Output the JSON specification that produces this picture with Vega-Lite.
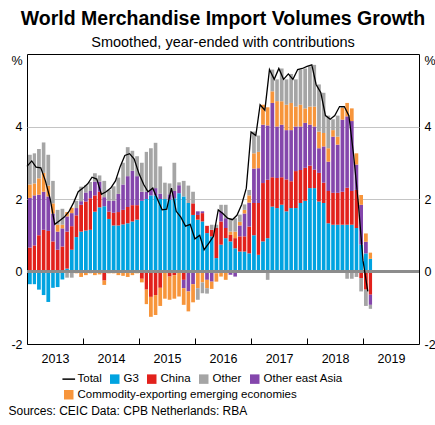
{
  "$schema": "https://vega.github.io/schema/vega-lite/v6.json",
  "padding": {"left": 0, "top": 8, "right": 0, "bottom": 0},
  "config": {
    "font": "Liberation Sans",
    "view": {"stroke": "#000000", "strokeWidth": 1},
    "axis": {"labelFont": "Liberation Sans", "labelColor": "#000000", "labelFontSize": 12.5, "domain": false},
    "legend": {"labelFont": "Liberation Sans", "labelColor": "#000000", "labelLimit": 400},
    "title": {"font": "Liberation Sans", "color": "#000000"}
  },
  "datasets": {
    "s": [
      {"key": "G3", "name": "G3", "rank": 1},
      {"key": "China", "name": "China", "rank": 2},
      {"key": "OEA", "name": "Other east Asia", "rank": 3},
      {"key": "Comm", "name": "Commodity-exporting emerging economies", "rank": 4},
      {"key": "Other", "name": "Other", "rank": 5}
    ],
    "m": [
      {"d": "2013-01-01", "G3": -0.35, "China": 0.66, "OEA": 1.37, "Comm": 0.37, "Other": 0.82, "Total": 2.9},
      {"d": "2013-02-01", "G3": -0.35, "China": 0.72, "OEA": 1.38, "Comm": 0.33, "Other": 0.83, "Total": 3.05},
      {"d": "2013-03-01", "G3": -0.5, "China": 1.0, "OEA": 1.12, "Comm": 0.45, "Other": 0.81, "Total": 2.88},
      {"d": "2013-04-01", "G3": -0.65, "China": 1.15, "OEA": 1.05, "Comm": 0.52, "Other": 0.84, "Total": 2.86},
      {"d": "2013-05-01", "G3": -0.84, "China": 1.12, "OEA": 0.95, "Comm": 0.3, "Other": 0.85, "Total": 2.5},
      {"d": "2013-06-01", "G3": -0.45, "China": 0.83, "OEA": 0.77, "Comm": 0.28, "Other": 0.62, "Total": 2.0},
      {"d": "2013-07-01", "G3": -0.43, "China": 0.6, "OEA": 0.5, "Comm": 0.19, "Other": 0.41, "Total": 1.3},
      {"d": "2013-08-01", "G3": -0.22, "China": 0.69, "OEA": 0.5, "Comm": 0.1, "Other": 0.44, "Total": 1.4},
      {"d": "2013-09-01", "G3": 0.08, "China": 1.02, "OEA": 0.42, "Comm": 0.12, "Other": -0.17, "Total": 1.5},
      {"d": "2013-10-01", "G3": 0.6, "China": 0.65, "OEA": 0.36, "Comm": 0.15, "Other": -0.17, "Total": 1.65},
      {"d": "2013-11-01", "G3": 0.95, "China": 0.6, "OEA": 0.2, "Comm": -0.05, "Other": 0.2, "Total": 1.9},
      {"d": "2013-12-01", "G3": 1.1, "China": 0.74, "OEA": 0.1, "Comm": -0.15, "Other": 0.4, "Total": 2.2},
      {"d": "2014-01-01", "G3": 1.13, "China": 0.8, "OEA": 0.25, "Comm": -0.1, "Other": 0.2, "Total": 2.3},
      {"d": "2014-02-01", "G3": 1.15, "China": 0.87, "OEA": 0.2, "Comm": -0.05, "Other": 0.25, "Total": 2.42},
      {"d": "2014-03-01", "G3": 1.65, "China": 0.45, "OEA": 0.38, "Comm": -0.1, "Other": 0.23, "Total": 2.6},
      {"d": "2014-04-01", "G3": 1.77, "China": 0.43, "OEA": 0.28, "Comm": -0.08, "Other": 0.17, "Total": 2.55},
      {"d": "2014-05-01", "G3": 1.8, "China": -0.25, "OEA": 0.25, "Comm": -0.12, "Other": 0.45, "Total": 2.13},
      {"d": "2014-06-01", "G3": 1.45, "China": 0.2, "OEA": 0.3, "Comm": -0.05, "Other": 0.3, "Total": 2.2},
      {"d": "2014-07-01", "G3": 1.27, "China": 0.35, "OEA": 0.33, "Comm": -0.05, "Other": 0.4, "Total": 2.3},
      {"d": "2014-08-01", "G3": 1.27, "China": 0.37, "OEA": 0.5, "Comm": -0.1, "Other": 0.45, "Total": 2.5},
      {"d": "2014-09-01", "G3": 1.3, "China": 0.4, "OEA": 0.7, "Comm": -0.12, "Other": 0.6, "Total": 2.9},
      {"d": "2014-10-01", "G3": 1.33, "China": 0.45, "OEA": 0.85, "Comm": -0.15, "Other": 0.8, "Total": 3.2},
      {"d": "2014-11-01", "G3": 1.38, "China": 0.45, "OEA": 0.95, "Comm": -0.1, "Other": 0.55, "Total": 3.25},
      {"d": "2014-12-01", "G3": 1.43, "China": 0.4, "OEA": 0.8, "Comm": -0.05, "Other": 0.55, "Total": 3.1},
      {"d": "2015-01-01", "G3": 1.95, "China": -0.2, "OEA": 0.25, "Comm": -0.1, "Other": 0.8, "Total": 2.7},
      {"d": "2015-02-01", "G3": 2.0, "China": -0.5, "OEA": 0.2, "Comm": -0.4, "Other": 1.1, "Total": 2.4},
      {"d": "2015-03-01", "G3": 2.1, "China": -0.7, "OEA": 0.15, "Comm": -0.55, "Other": 1.15, "Total": 2.2},
      {"d": "2015-04-01", "G3": 2.1, "China": -0.65, "OEA": 0.2, "Comm": -0.55, "Other": 1.25, "Total": 2.3},
      {"d": "2015-05-01", "G3": 2.0, "China": -0.45, "OEA": 0.15, "Comm": -0.5, "Other": 0.75, "Total": 2.0},
      {"d": "2015-06-01", "G3": 2.0, "China": 0.0, "OEA": 0.0, "Comm": -0.75, "Other": 0.45, "Total": 1.7},
      {"d": "2015-07-01", "G3": 1.98, "China": -0.14, "OEA": 0.15, "Comm": -0.64, "Other": 0.3, "Total": 1.72},
      {"d": "2015-08-01", "G3": 2.02, "China": -0.1, "OEA": 0.2, "Comm": -0.65, "Other": 0.78, "Total": 2.3},
      {"d": "2015-09-01", "G3": 2.16, "China": 0.0, "OEA": 0.22, "Comm": -0.69, "Other": 0.08, "Total": 1.66},
      {"d": "2015-10-01", "G3": 2.07, "China": -0.23, "OEA": -0.23, "Comm": -0.46, "Other": 0.43, "Total": 1.5},
      {"d": "2015-11-01", "G3": 1.89, "China": 0.0, "OEA": -0.55, "Comm": -0.55, "Other": 0.48, "Total": 1.25},
      {"d": "2015-12-01", "G3": 1.56, "China": 0.32, "OEA": -0.35, "Comm": -0.5, "Other": 0.32, "Total": 1.3},
      {"d": "2016-01-01", "G3": 1.43, "China": 0.13, "OEA": 0.1, "Comm": -0.46, "Other": -0.32, "Total": 0.9},
      {"d": "2016-02-01", "G3": 1.38, "China": 0.23, "OEA": 0.05, "Comm": -0.3, "Other": -0.3, "Total": 1.0},
      {"d": "2016-03-01", "G3": 1.06, "China": 0.2, "OEA": -0.23, "Comm": -0.23, "Other": -0.15, "Total": 0.6},
      {"d": "2016-04-01", "G3": 0.97, "China": 0.18, "OEA": -0.28, "Comm": -0.2, "Other": 0.14, "Total": 0.78},
      {"d": "2016-05-01", "G3": 0.37, "China": 0.83, "OEA": -0.05, "Comm": -0.23, "Other": 0.09, "Total": 0.97},
      {"d": "2016-06-01", "G3": 0.74, "China": 0.64, "OEA": 0.28, "Comm": -0.14, "Other": 0.18, "Total": 1.7},
      {"d": "2016-07-01", "G3": 0.92, "China": 0.28, "OEA": 0.27, "Comm": -0.23, "Other": 0.37, "Total": 1.6},
      {"d": "2016-08-01", "G3": 0.83, "China": 0.18, "OEA": -0.09, "Comm": 0.09, "Other": 0.37, "Total": 1.47},
      {"d": "2016-09-01", "G3": 0.64, "China": 0.28, "OEA": -0.14, "Comm": 0.18, "Other": 0.37, "Total": 1.43},
      {"d": "2016-10-01", "G3": 0.55, "China": 0.42, "OEA": 0.3, "Comm": 0.1, "Other": 0.2, "Total": 1.55},
      {"d": "2016-11-01", "G3": 0.55, "China": 0.42, "OEA": 0.63, "Comm": 0.1, "Other": 0.15, "Total": 1.85},
      {"d": "2016-12-01", "G3": 0.5, "China": 0.74, "OEA": 0.66, "Comm": 0.2, "Other": 0.15, "Total": 2.3},
      {"d": "2017-01-01", "G3": 1.0, "China": 0.89, "OEA": 0.95, "Comm": 0.42, "Other": 0.6, "Total": 3.85},
      {"d": "2017-02-01", "G3": 0.46, "China": 1.43, "OEA": 0.96, "Comm": 0.45, "Other": 0.45, "Total": 3.75},
      {"d": "2017-03-01", "G3": 0.83, "China": 1.61, "OEA": 1.61, "Comm": 0.55, "Other": 0.0, "Total": 4.6},
      {"d": "2017-04-01", "G3": 0.92, "China": 1.61, "OEA": 1.5, "Comm": 0.5, "Other": -0.23, "Total": 4.45},
      {"d": "2017-05-01", "G3": 1.79, "China": 0.81, "OEA": 2.05, "Comm": 0.32, "Other": 0.6, "Total": 5.57},
      {"d": "2017-06-01", "G3": 1.75, "China": 0.83, "OEA": 1.42, "Comm": 0.7, "Other": 0.6, "Total": 5.3},
      {"d": "2017-07-01", "G3": 1.84, "China": 0.76, "OEA": 1.45, "Comm": 0.65, "Other": 0.9, "Total": 5.6},
      {"d": "2017-08-01", "G3": 1.66, "China": 0.88, "OEA": 1.36, "Comm": 0.7, "Other": 0.7, "Total": 5.3},
      {"d": "2017-09-01", "G3": 1.75, "China": 0.74, "OEA": 1.41, "Comm": 0.75, "Other": 0.8, "Total": 5.45},
      {"d": "2017-10-01", "G3": 1.75, "China": 1.02, "OEA": 1.23, "Comm": 0.55, "Other": 0.75, "Total": 5.3},
      {"d": "2017-11-01", "G3": 1.89, "China": 0.91, "OEA": 1.2, "Comm": 0.6, "Other": 0.97, "Total": 5.57},
      {"d": "2017-12-01", "G3": 1.95, "China": 0.91, "OEA": 1.24, "Comm": 0.4, "Other": 1.1, "Total": 5.6},
      {"d": "2018-01-01", "G3": 2.3, "China": 0.62, "OEA": 1.13, "Comm": 0.5, "Other": 1.11, "Total": 5.66},
      {"d": "2018-02-01", "G3": 2.3, "China": 0.51, "OEA": 1.19, "Comm": 0.55, "Other": 1.15, "Total": 5.7},
      {"d": "2018-03-01", "G3": 1.93, "China": 0.79, "OEA": 0.68, "Comm": 0.46, "Other": 1.3, "Total": 5.16},
      {"d": "2018-04-01", "G3": 1.89, "China": 0.56, "OEA": 1.0, "Comm": 0.37, "Other": 1.11, "Total": 4.93},
      {"d": "2018-05-01", "G3": 1.33, "China": 0.89, "OEA": 0.81, "Comm": 0.37, "Other": 0.9, "Total": 4.3},
      {"d": "2018-06-01", "G3": 1.29, "China": 0.88, "OEA": 1.55, "Comm": 0.18, "Other": 0.3, "Total": 4.2},
      {"d": "2018-07-01", "G3": 1.29, "China": 0.88, "OEA": 1.33, "Comm": 0.22, "Other": 0.58, "Total": 4.3},
      {"d": "2018-08-01", "G3": 1.29, "China": 0.91, "OEA": 1.99, "Comm": 0.32, "Other": 0.04, "Total": 4.55},
      {"d": "2018-09-01", "G3": 1.29, "China": 1.02, "OEA": 1.97, "Comm": 0.37, "Other": -0.2, "Total": 4.55},
      {"d": "2018-10-01", "G3": 1.29, "China": 0.93, "OEA": 1.93, "Comm": 0.35, "Other": -0.2, "Total": 4.3},
      {"d": "2018-11-01", "G3": 1.2, "China": 1.05, "OEA": 0.7, "Comm": 0.31, "Other": -0.15, "Total": 3.2},
      {"d": "2018-12-01", "G3": 0.74, "China": -0.18, "OEA": 1.1, "Comm": 0.27, "Other": -0.37, "Total": 1.9},
      {"d": "2019-01-01", "G3": 0.5, "China": -0.5, "OEA": 0.32, "Comm": 0.23, "Other": -0.45, "Total": 0.3},
      {"d": "2019-02-01", "G3": 0.35, "China": -0.64, "OEA": -0.28, "Comm": 0.17, "Other": -0.11, "Total": -0.55}
    ]
  },
  "title": {"text": "Sources: CEIC Data: CPB Netherlands: RBA", "orient": "bottom", "anchor": "start", "fontSize": 12, "fontWeight": "normal", "offset": 4, "dx": 8},
  "vconcat": [
    {
      "width": 392,
      "height": 290,
      "title": {
        "text": "World Merchandise Import Volumes Growth",
        "subtitle": "Smoothed, year-ended with contributions",
        "fontSize": 19.5,
        "fontWeight": "bold",
        "subtitleFont": "Liberation Sans",
        "subtitleFontSize": 14.5,
        "subtitleColor": "#000000",
        "subtitlePadding": 6,
        "offset": 4,
        "anchor": "middle"
      },
      "data": {"name": "m"},
      "layer": [
        {
          "transform": [
            {"fold": ["G3", "China", "OEA", "Comm", "Other"], "as": ["key", "value"]},
            {"lookup": "key", "from": {"data": {"name": "s"}, "key": "key", "fields": ["name", "rank"]}}
          ],
          "mark": {"type": "bar", "timeUnitBandSize": 0.82},
          "encoding": {
            "x": {
              "field": "d",
              "timeUnit": "utcyearmonth",
              "type": "temporal",
              "scale": {"domain": [{"year": 2013, "month": 1, "date": 1, "utc": true}, {"year": 2020, "month": 1, "date": 1, "utc": true}]},
              "axis": {
                "title": null,
                "values": [{"year": 2013, "utc": true}, {"year": 2014, "utc": true}, {"year": 2015, "utc": true}, {"year": 2016, "utc": true}, {"year": 2017, "utc": true}, {"year": 2018, "utc": true}, {"year": 2019, "utc": true}],
                "format": "%Y",
                "labelOffset": 28,
                "labelFlush": false,
                "labelOverlap": false,
                "tickSize": -6,
                "tickColor": "#000000",
                "tickWidth": 1,
                "labelPadding": 14,
                "grid": false
              }
            },
            "y": {
              "field": "value",
              "type": "quantitative",
              "stack": "zero",
              "scale": {"domain": [-2, 6], "nice": false},
              "axis": {
                "title": null,
                "orient": "left",
                "values": [-2, 0, 2, 4, 6],
                "labelExpr": "datum.value == 6 ? '%' : (datum.value < 0 ? '-' + (-datum.value) : '' + datum.value)",
                "ticks": false,
                "labelPadding": 5,
                "labelFlush": false,
                "labelBaseline": {"condition": {"test": "datum.value == 6", "value": "top"}, "value": "middle"},
                "grid": true,
                "gridColor": {"condition": {"test": "datum.value == 2 || datum.value == 4", "value": "#c4c4c4"}, "value": "transparent"},
                "gridWidth": 1,
                "minExtent": 26,
                "maxExtent": 26
              }
            },
            "color": {
              "field": "name",
              "type": "nominal",
              "scale": {
                "domain": ["Total", "G3", "China", "Other", "Other east Asia", "Commodity-exporting emerging economies"],
                "range": ["#000000", "#00A3E0", "#E2211C", "#A5A5A5", "#8446AC", "#F7953B"]
              },
              "legend": {
                "orient": "none",
                "legendX": 36,
                "legendY": 319,
                "direction": "horizontal",
                "values": ["Total", "G3", "China", "Other", "Other east Asia"],
                "title": null,
                "labelFontSize": 11.5,
                "symbolSize": 90,
                "columnPadding": 7,
                "labelOffset": 3,
                "symbolType": "square",
                "encode": {
                  "symbols": {
                    "update": {
                      "shape": {"signal": "datum.value == 'Total' ? 'stroke' : 'square'"},
                      "fill": {"signal": "datum.value == 'Total' ? 'transparent' : datum.value == 'G3' ? '#00A3E0' : datum.value == 'China' ? '#E2211C' : datum.value == 'Other' ? '#A5A5A5' : datum.value == 'Other east Asia' ? '#8446AC' : '#F7953B'"},
                      "stroke": {"signal": "datum.value == 'Total' ? '#000000' : 'transparent'"},
                      "strokeWidth": {"signal": "datum.value == 'Total' ? 1.5 : 0"},
                      "size": {"signal": "datum.value == 'Total' ? 160 : 90"},
                      "opacity": {"value": 1}
                    }
                  }
                }
              }
            },
            "order": {"field": "rank", "type": "quantitative"}
          }
        },
        {
          "mark": {"type": "rule", "color": "#8c8c8c", "strokeWidth": 1.5},
          "encoding": {"y": {"datum": 0, "type": "quantitative", "axis": null}}
        },
        {
          "mark": {"type": "line", "strokeWidth": 1.3, "timeUnitBandPosition": 0.5},
          "encoding": {
            "x": {"field": "d", "timeUnit": "utcyearmonth", "type": "temporal"},
            "y": {
              "field": "Total",
              "type": "quantitative",
              "scale": {"domain": [-2, 6], "nice": false},
              "axis": {
                "title": null,
                "orient": "right",
                "values": [-2, 0, 2, 4, 6],
                "labelExpr": "datum.value == 6 ? '%' : (datum.value < 0 ? '-' + (-datum.value) : '' + datum.value)",
                "ticks": false,
                "labelPadding": 5,
                "labelFlush": false,
                "labelBaseline": {"condition": {"test": "datum.value == 6", "value": "top"}, "value": "middle"},
                "grid": false,
                "minExtent": 17,
                "maxExtent": 17
              }
            },
            "color": {
              "datum": "Total",
              "legend": {
                "orient": "none",
                "legendX": 36,
                "legendY": 335,
                "direction": "horizontal",
                "values": ["Commodity-exporting emerging economies"],
                "title": null,
                "labelFontSize": 11.5,
                "symbolSize": 90,
                "labelOffset": 3,
                "symbolType": "square",
                "encode": {
                  "symbols": {
                    "update": {
                      "shape": {"value": "square"},
                      "fill": {"value": "#F7953B"},
                      "stroke": {"value": "transparent"},
                      "strokeWidth": {"value": 0},
                      "size": {"value": 90},
                      "opacity": {"value": 1}
                    }
                  }
                }
              }
            }
          }
        }
      ],
      "resolve": {"axis": {"y": "independent"}, "legend": {"color": "independent"}}
    }
  ]
}
